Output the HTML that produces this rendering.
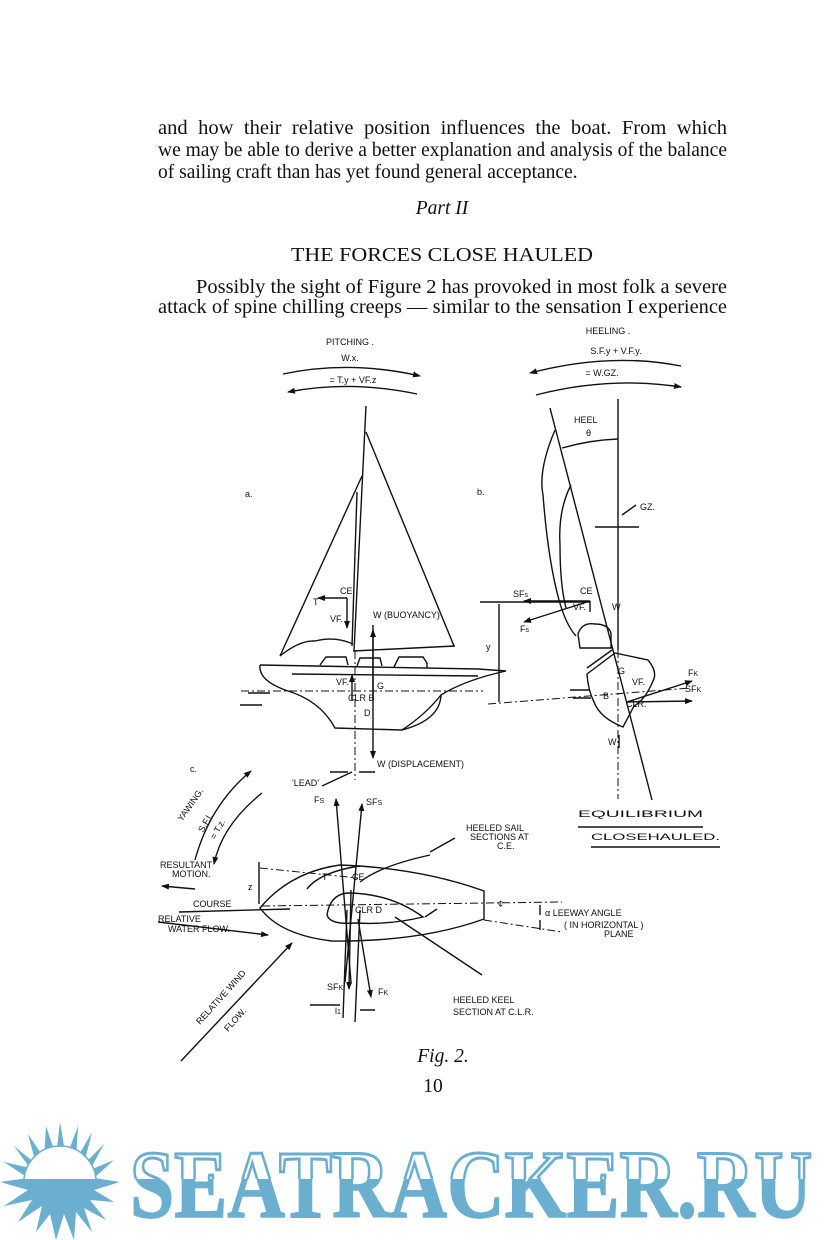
<!DOCTYPE html>
<html><head><meta charset="utf-8"><style>
html,body{margin:0;padding:0;background:#fff;}
svg{display:block}
.t{font-family:"Liberation Serif",serif;font-size:19.5px;fill:#111}
.h{font-family:"Liberation Sans",sans-serif;font-size:9px;fill:#111}
.l{stroke:#111;stroke-width:1.4;fill:none}
.d{stroke:#111;stroke-width:1;fill:none;stroke-dasharray:8 3 2 3}
</style></head><body>
<svg width="825" height="1240" viewBox="0 0 825 1240" xmlns="http://www.w3.org/2000/svg">
<defs>
<marker id="a" markerWidth="8" markerHeight="8" refX="7" refY="4" orient="auto" markerUnits="userSpaceOnUse"><path d="M0,1 L8,4 L0,7 Z" fill="#111"/></marker>
<clipPath id="top"><rect x="0" y="1100" width="825" height="79"/></clipPath>
<clipPath id="bot"><rect x="0" y="1179" width="825" height="70"/></clipPath>
</defs>
<rect width="825" height="1240" fill="#fff"/>
<!-- body text -->
<text class="t" x="158" y="134" textLength="569" lengthAdjust="spacingAndGlyphs" word-spacing="5">and how their relative position influences the boat.  From which</text>
<text class="t" x="158" y="156" textLength="569" lengthAdjust="spacingAndGlyphs" font-size="19">we may be able to derive a better explanation and analysis of the balance</text>
<text class="t" x="158" y="178" font-size="19.5">of sailing craft than has yet found general acceptance.</text>
<text class="t" x="442" y="214" text-anchor="middle" font-style="italic">Part II</text>
<text class="t" x="442" y="261" text-anchor="middle" textLength="302" lengthAdjust="spacingAndGlyphs">THE FORCES CLOSE HAULED</text>
<text class="t" x="196" y="293" textLength="531" lengthAdjust="spacingAndGlyphs">Possibly the sight of Figure 2 has provoked in most folk a severe</text>
<text class="t" x="158" y="313" textLength="569" lengthAdjust="spacingAndGlyphs">attack of spine chilling creeps — similar to the sensation I experience</text>

<!-- view a -->
<text class="h" x="350" y="345" text-anchor="middle">PITCHING .</text>
<text class="h" x="350" y="361" text-anchor="middle">W.x.</text>
<path class="l" d="M283,374 Q350,360 420,376" marker-end="url(#a)"/>
<text class="h" x="353" y="383" text-anchor="middle" font-size="8">= T.y + VF.z</text>
<path class="l" d="M417,394 Q350,380 288,392" marker-end="url(#a)"/>
<path class="l" d="M366,406 L354,651"/>
<path class="l" d="M366,432 L454,646"/>
<path class="l" d="M353,651 L455,646"/>
<path class="l" d="M362,476 L280,656"/>
<path class="l" d="M357,492 L352,646"/>
<path class="l" d="M280,656 Q300,640 315,641 Q335,636 353,644"/>
<path class="l" d="M260,665 L478,669 M292,674 L478,676"/>
<path class="l" d="M320,665 l6,-8 h20 l2,8 M357,666 l3,-8 h20 l2,8 M394,667 l5,-10 h24 l4,6 v5"/>
<path class="l" d="M260,665 Q258,680 285,690 Q320,700 335,728 L402,730 Q425,715 441,695 Q465,680 506,671 L478,669"/>
<path class="l" d="M441,695 Q440,720 402,730"/>
<path class="d" d="M241,691 L483,691"/>
<path class="l" d="M248,693 h22 M240,705 h22"/>
<path class="d" d="M355,651 L355,780"/>
<path class="l" d="M373,625 L373,758" marker-end="url(#a)"/>
<path class="l" d="M373,700 L373,630" marker-end="url(#a)"/>
<path class="l" d="M347,598 L347,628" marker-end="url(#a)"/>
<path class="l" d="M347,598 L318,598" marker-end="url(#a)"/>
<path class="l" d="M352,700 L352,675" marker-end="url(#a)"/>
<text class="h" x="313" y="605" font-size="12">T</text>
<text class="h" x="340" y="594">CE</text>
<text class="h" x="330" y="622">VF.</text>
<text class="h" x="373" y="618">W (BUOYANCY)</text>
<text class="h" x="336" y="685">VF.</text>
<text class="h" x="377" y="689" font-size="10">G</text>
<text class="h" x="348" y="701" font-size="10">CLR B</text>
<text class="h" x="364" y="716" font-size="10">D</text>
<text class="h" x="377" y="767">W (DISPLACEMENT)</text>
<text class="h" x="292" y="786" font-size="10">'LEAD'</text>
<path class="l" d="M322,786 L352,772 M330,772 h18 M375,772 h-16"/>
<text class="h" x="245" y="497" font-size="12">a.</text>
<text class="h" x="477" y="495" font-size="12">b.</text>
<text class="h" x="190" y="772" font-size="12">c.</text>

<!-- view b -->
<text class="h" x="608" y="334" text-anchor="middle">HEELING .</text>
<text class="h" x="616" y="354" text-anchor="middle" font-size="10">S.F.y + V.F.y.</text>
<path class="l" d="M681,366 Q610,352 530,373" marker-end="url(#a)"/>
<text class="h" x="602" y="376" text-anchor="middle">= W.GZ.</text>
<path class="l" d="M536,395 Q610,376 681,387" marker-end="url(#a)"/>
<path class="l" d="M618,399 L618,650"/>
<path class="d" d="M618,650 L618,799"/>
<path class="l" d="M550,408 L652,800"/>
<text class="h" x="574" y="423">HEEL</text>
<text class="h" x="586" y="436">θ</text>
<path class="l" d="M562,448 Q590,440 618,439"/>
<path class="l" d="M555,430 Q538,470 543,495 Q548,560 559,600 Q566,625 576,636"/>
<path class="l" d="M571,485 Q558,510 560,545 Q560,585 566,608"/>
<text class="h" x="640" y="510">GZ.</text>
<path class="l" d="M636,505 L622,515 M595,527 h44"/>
<text class="h" x="513" y="597">SF<tspan font-size="7">s</tspan></text>
<text class="h" x="580" y="594">CE</text>
<path class="l" d="M590,601 L524,601" marker-end="url(#a)"/>
<path class="l" d="M590,601 L524,622" marker-end="url(#a)"/>
<path class="l" d="M590,601 L590,612"/>
<text class="h" x="520" y="632">F<tspan font-size="7">s</tspan></text>
<text class="h" x="573" y="610" font-size="7">VF.</text>
<text class="h" x="612" y="610">W</text>
<path class="l" d="M480,602 L590,602"/>
<path class="d" d="M488,704 L690,688"/>
<path class="l" d="M499,604 L499,702"/>
<text class="h" x="486" y="650" font-size="11">y</text>
<path class="l" d="M578,634 Q582,622 595,624 Q608,624 611,633 L611,648 L580,648 Z"/>
<path class="l" d="M587,674 L615,653 L648,660 Q658,672 653,681 Q645,700 634,706 L623,727 Q600,718 594,702 Q588,690 587,674 Z"/>
<path class="l" d="M587,668 L612,650"/>
<path class="l" d="M627,702 L692,681" marker-end="url(#a)"/>
<path class="l" d="M627,702 L692,701" marker-end="url(#a)"/>
<text class="h" x="688" y="676">F<tspan font-size="7">K</tspan></text>
<text class="h" x="685" y="692">SF<tspan font-size="7">K</tspan></text>
<text class="h" x="618" y="674" font-size="8">G</text>
<text class="h" x="632" y="685" font-size="8">VF.</text>
<text class="h" x="603" y="699" font-size="8">B</text>
<text class="h" x="626" y="707" font-size="8">CLR.</text>
<text class="h" x="608" y="745">W</text>
<path class="l" d="M619,735 L619,748"/>
<path class="l" d="M573,698 h18 M570,690 h20"/>

<!-- view c -->
<text class="h" x="578" y="817" font-size="16" textLength="125" lengthAdjust="spacingAndGlyphs">EQUILIBRIUM</text>
<path class="l" d="M578,827 h125"/>
<text class="h" x="591" y="840" font-size="16" textLength="129" lengthAdjust="spacingAndGlyphs">CLOSEHAULED.</text>
<path class="l" d="M591,847 h129"/>
<path class="l" d="M195,860 Q210,805 251,771" marker-end="url(#a)"/>
<path class="l" d="M262,793 Q222,825 214,864" marker-end="url(#a)"/>
<text class="h" x="182" y="822" transform="rotate(-55 182 822)">YAWING.</text>
<text class="h" x="203" y="833" transform="rotate(-60 203 833)">S.F.l.</text>
<text class="h" x="215" y="840" transform="rotate(-60 215 840)">= T.z.</text>
<path class="l" d="M260,908 Q290,872 340,865 Q420,868 484,891 L484,919 Q420,942 332,941 Q280,935 260,908 Z"/>
<path class="l" d="M327,915 Q330,895 347,893 Q390,893 423,917 Q390,925 355,923 Q330,925 327,915 Z"/>
<path class="l" d="M425,917 L437,909"/>
<path class="l" d="M307,889 Q320,872 360,866 M360,882 Q380,866 430,855"/>
<path class="d" d="M262,906 L562,902"/>
<path class="d" d="M260,868 L358,878 M484,920 L562,932"/>
<path class="l" d="M259,862 L259,904"/>
<text class="h" x="248" y="890" font-size="11">z</text>
<path class="l" d="M195,889 L162,886" marker-end="url(#a)"/>
<path class="l" d="M290,909 L179,912"/>
<path class="l" d="M158,922 L268,935" marker-end="url(#a)"/>
<path class="l" d="M181,1061 L292,943" marker-end="url(#a)"/>
<path class="l" d="M351,982 L336,799" marker-end="url(#a)"/>
<path class="l" d="M345,982 L362,804" marker-end="url(#a)"/>
<path class="l" d="M351,890 L349,989" marker-end="url(#a)"/>
<path class="l" d="M358,919 L371,997" marker-end="url(#a)"/>
<path class="l" d="M347,910 L343,1018 M360,910 L355,1022 M310,1005 h30 M375,1010 h-15"/>
<path class="l" d="M540,905 v10 M540,930 v-10"/>
<path class="l" d="M430,852 L455,838 M395,917 L482,975"/>
<text class="h" x="314" y="803">F<tspan font-size="7">S</tspan></text>
<text class="h" x="366" y="805">SF<tspan font-size="7">S</tspan></text>
<text class="h" x="466" y="831" font-size="8">HEELED SAIL</text>
<text class="h" x="470" y="840" font-size="8">SECTIONS AT</text>
<text class="h" x="497" y="849" font-size="8">C.E.</text>
<text class="h" x="160" y="868" font-size="8">RESULTANT</text>
<text class="h" x="172" y="877" font-size="8">MOTION.</text>
<text class="h" x="193" y="907" font-size="8">COURSE</text>
<text class="h" x="158" y="922" font-size="8">RELATIVE</text>
<text class="h" x="168" y="932" font-size="8">WATER FLOW.</text>
<text class="h" x="322" y="880">T</text>
<text class="h" x="352" y="880" font-size="8">CE</text>
<text class="h" x="355" y="913" font-size="7">CLR D</text>
<text class="h" x="498" y="907" font-size="10">¢</text>
<text class="h" x="545" y="916" font-size="9">α LEEWAY ANGLE</text>
<text class="h" x="564" y="928" font-size="8">( IN HORIZONTAL )</text>
<text class="h" x="604" y="937" font-size="8">PLANE</text>
<text class="h" x="327" y="990">SF<tspan font-size="7">K</tspan></text>
<text class="h" x="378" y="995">F<tspan font-size="7">K</tspan></text>
<text class="h" x="453" y="1003" font-size="10">HEELED KEEL</text>
<text class="h" x="453" y="1015" font-size="10">SECTION AT C.L.R.</text>
<text class="h" x="335" y="1014" font-size="10">l<tspan font-size="7">1</tspan></text>
<text class="h" x="200" y="1025" transform="rotate(-48 200 1025)">RELATIVE WIND</text>
<text class="h" x="228" y="1032" transform="rotate(-48 228 1032)">FLOW.</text>
<text class="t" x="443" y="1062" text-anchor="middle" font-style="italic" font-size="18">Fig. 2.</text>
<text class="t" x="433" y="1092" text-anchor="middle" font-size="18">10</text>

<!-- logo -->
<g fill="#6aaed0">
<polygon points="60,1122 66,1158 78,1126 76,1160 92,1132 84,1164 104,1144 90,1170 114,1160 94,1178 120,1182 94,1190 114,1202 90,1200 106,1220 84,1208 92,1232 76,1212 74,1240 64,1214 56,1240 50,1214 36,1232 42,1206 18,1222 32,1200 4,1206 28,1190 0,1182 28,1178 4,1162 30,1168 14,1146 36,1164 28,1134 44,1158 46,1126 56,1156"/>
<circle cx="60" cy="1182" r="36" fill="#fff" stroke="#6aaed0" stroke-width="1.5" clip-path="url(#top)"/>
</g>
<text x="130" y="1217" font-family="Liberation Serif,serif" font-weight="bold" font-size="96" textLength="682" lengthAdjust="spacingAndGlyphs" fill="#fff" stroke="#6aaed0" stroke-width="3" clip-path="url(#top)">SEATRACKER.RU</text>
<text x="130" y="1217" font-family="Liberation Serif,serif" font-weight="bold" font-size="96" textLength="682" lengthAdjust="spacingAndGlyphs" fill="#6aaed0" stroke="#6aaed0" stroke-width="1.5" clip-path="url(#bot)">SEATRACKER.RU</text>
</svg>
</body></html>
